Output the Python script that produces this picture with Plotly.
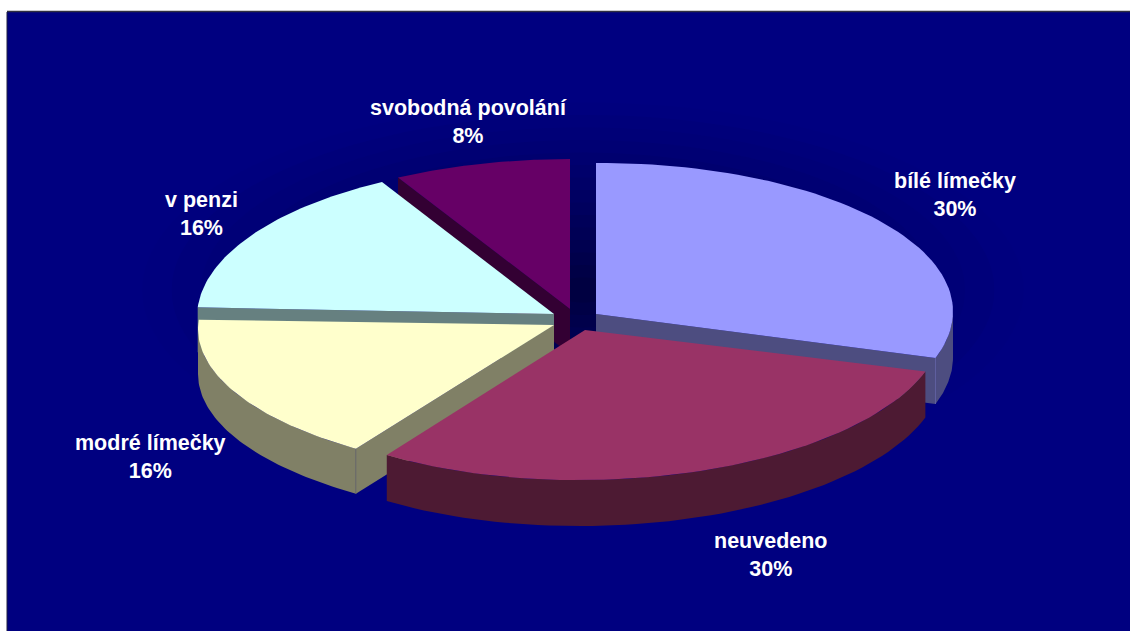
import math
import plotly.graph_objects as go

# ---- data ----
categories = ["bílé límečky", "neuvedeno", "modré límečky", "v penzi", "svobodná povolání"]
values = [30, 30, 16, 16, 8]

# ---- styles ----
top_colors = ["#9999FF", "#993366", "#FFFFCC", "#CCFFFF", "#660066"]
wall_colors = ["#4D4D80", "#4D1A33", "#808066", "#668080", "#330033"]

# per-slice projection of the exploded 3-D disc (apex, arc centre, radii, skew, depth), in page pixels
geometry = {
    "bílé límečky":      dict(apex=(596, 314), c=(596, 313), r=(357, 150), s=-0.004, d=46),
    "neuvedeno":         dict(apex=(585, 330), c=(592.5, 331), r=(350, 149), s=-0.0167, d=46),
    "modré límečky":     dict(apex=(554, 325), c=(581, 329), r=(383, 148), s=0, d=45),
    "v penzi":           dict(apex=(554, 314), c=(554, 317), r=(357, 154), s=0, d=45),
    "svobodná povolání": dict(apex=(570, 309), c=(570, 309), r=(357, 150), s=0, d=45),
}
label_pos = {
    "bílé límečky": (954.5, 195),
    "neuvedeno": (771, 555),
    "modré límečky": (150, 457),
    "v penzi": (201.5, 214),
    "svobodná povolání": (468, 122),
}
draw_order = ["svobodná povolání", "bílé límečky", "v penzi", "modré límečky", "neuvedeno"]

total = sum(values)
starts = {}
acc = 0
for cat, val in zip(categories, values):
    starts[cat] = (acc / total * 360, (acc + val) / total * 360)
    acc += val


def arc(g, a0, a1, dy=0, n=60):
    pts = []
    for i in range(n + 1):
        t = math.radians(a0 + (a1 - a0) * i / n)
        dx = g["r"][0] * math.sin(t)
        pts.append((g["c"][0] + dx, g["c"][1] - g["r"][1] * math.cos(t) + g["s"] * dx + dy))
    return pts


def poly(fig, pts, color, name):
    fig.add_trace(go.Scatter(
        x=[p[0] for p in pts] + [pts[0][0]], y=[p[1] for p in pts] + [pts[0][1]],
        mode="lines", fill="toself", fillcolor=color, line=dict(width=0, color=color),
        hoverinfo="text", text=name, showlegend=False))


fig = go.Figure()

for cat in draw_order:
    i = categories.index(cat)
    g = geometry[cat]
    a0, a1 = starts[cat]
    d = g["d"]
    ax, ay = g["apex"]
    # straight cut walls visible from the viewer
    for ang in (a0, a1):
        facing = (cat == "bílé límečky" and ang == a1) or (cat == "modré límečky" and ang == a0) \
            or (cat == "v penzi" and ang == a0) or (cat == "svobodná povolání" and ang == a0)
        if facing:
            e = arc(g, ang, ang, n=1)[0]
            poly(fig, [(ax, ay), e, (e[0], e[1] + d), (ax, ay + d)], wall_colors[i], cat)
    # curved outer wall
    lo, hi = max(a0, 90), min(a1, 270)
    if lo < hi:
        up = arc(g, lo, hi)
        down = arc(g, hi, lo, dy=d)
        poly(fig, up + down, wall_colors[i], cat)
    # corner line between walls
    if cat in ("bílé límečky", "modré límečky"):
        e = arc(g, a1 if cat == "bílé límečky" else a0, a1 if cat == "bílé límečky" else a0, n=1)[0]
        fig.add_trace(go.Scatter(x=[e[0], e[0]], y=[e[1], e[1] + d], mode="lines",
                                 line=dict(width=1, color="#6A6A6A" if cat != "bílé límečky" else "#6060A0"),
                                 hoverinfo="skip", showlegend=False))
    # top face
    poly(fig, [(ax, ay)] + arc(g, a0, a1), top_colors[i], f"{cat} {values[i]}%")

annotations = [
    dict(x=label_pos[c][0], y=label_pos[c][1], text=f"{c}<br>{v}%", showarrow=False,
         font=dict(family="Liberation Sans", size=21.5, color="white", weight="bold"), align="center",
         xref="x", yref="y")
    for c, v in zip(categories, values)
]

# page background, top rule and soft dark glow behind the disc
shapes = [
    dict(type="rect", xref="x", yref="y", x0=7, x1=1130, y0=12, y1=631,
         fillcolor="#000080", line=dict(width=0), layer="below"),
    dict(type="line", xref="x", yref="y", x0=7, x1=1130, y0=11.5, y1=11.5,
         line=dict(width=1.5, color="#303040"), layer="below"),
    dict(type="line", xref="x", yref="y", x0=7, x1=7, y0=12, y1=631,
         line=dict(width=1, color="#202040"), layer="below"),
]
steps = 16
for k in range(steps):
    f = 1 - k / steps
    b = int(round(128 - (128 - 60) * (1 - f) ** 1.2))
    shapes.append(dict(type="circle", xref="x", yref="y",
                       x0=583 - 470 * f, x1=583 + 470 * f, y0=290 - 200 * f, y1=290 + 200 * f,
                       fillcolor=f"rgb(0,0,{b})", line=dict(width=0), layer="below"))

fig.update_layout(
    width=1130, height=631, margin=dict(l=0, r=0, t=0, b=0),
    paper_bgcolor="white", plot_bgcolor="white", showlegend=False,
    xaxis=dict(range=[0, 1130], visible=False, fixedrange=True),
    yaxis=dict(range=[631, 0], visible=False, fixedrange=True),
    annotations=annotations, shapes=shapes,
)
fig.write_html("out.html", config={"displayModeBar": False},
               post_script="document.body.style.margin='0';document.documentElement.style.overflow='hidden';")
